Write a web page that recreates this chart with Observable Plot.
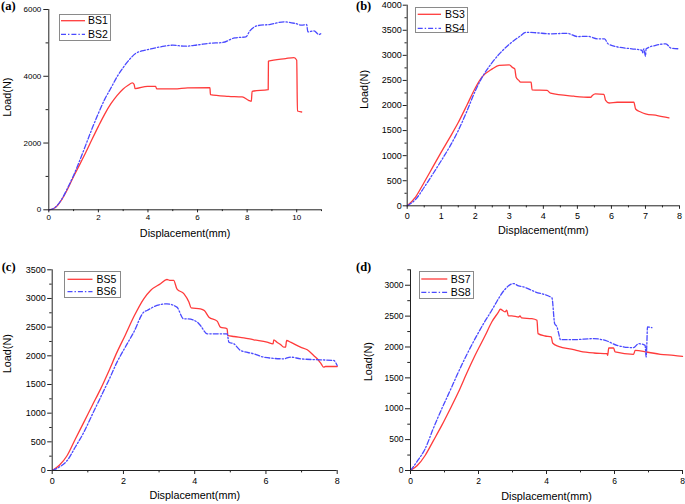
<!DOCTYPE html>
<html><head><meta charset="utf-8">
<script src="https://cdn.jsdelivr.net/npm/d3@7"></script>
<script src="https://cdn.jsdelivr.net/npm/@observablehq/plot@0.6"></script>
<style>
body{margin:0;background:#fff;}
#wrap{position:relative;width:685px;height:504px;overflow:hidden;font-family:"Liberation Sans",Arial,sans-serif;background:#fff;}
.lg{position:absolute;border:1px solid #8a8a8a;background:#fff;box-sizing:border-box;}
.lt{position:absolute;font-size:10.5px;line-height:1;color:#000;}
.pl{position:absolute;font-family:"Liberation Serif","Times New Roman",serif;font-weight:bold;font-size:12.5px;line-height:1;}
</style></head>
<body><div id="wrap"></div>
<script>
// ---------- data ----------
const xLabel = "Displacement(mm)";
const yLabel = "Load(N)";
const panelTags = ["(a)", "(b)", "(c)", "(d)"];

const bs1X = [0,0.2,0.35,0.5,0.75,1.0,1.25,1.5,1.75,2.0,2.25,2.5,2.75,3.0,3.2,3.37,3.44,3.48,3.98,4.31,4.35,5.06,5.6,6.5,6.52,7.25,7.8,8.06,8.17,8.2,8.85,8.86,9.55,9.89,10.0,10.03,10.2];
const bs1Y = [0,40,130,280,610,1000,1360,1730,2120,2500,2860,3170,3420,3620,3730,3800,3760,3630,3700,3700,3620,3620,3650,3660,3450,3400,3380,3280,3250,3550,3600,4450,4530,4560,4480,2960,2930];
const bs2X = [0,0.2,0.35,0.5,0.75,1.0,1.25,1.5,1.75,2.0,2.25,2.5,2.75,3.0,3.25,3.5,3.75,4.0,4.5,5.0,5.5,6.0,6.5,7.0,7.5,7.95,8.1,8.45,8.9,9.5,9.95,10.2,10.4,10.45,10.7,10.9,11.0];
const bs2Y = [0,40,140,290,640,1030,1480,1960,2440,2890,3300,3640,3980,4260,4500,4680,4760,4800,4880,4930,4900,4940,4990,5010,5150,5180,5350,5520,5550,5630,5580,5530,5550,5330,5360,5250,5290];

const bs3X = [0,0.25,0.5,0.75,1.0,1.25,1.5,1.75,2.0,2.2,2.5,2.7,3.0,3.09,3.16,3.2,3.28,3.33,3.64,3.67,4.11,4.21,4.9,5.39,5.44,5.53,5.78,5.83,5.93,6.17,6.66,6.71,6.86,7.0,7.35,7.69];
const bs3Y = [0,180,470,770,1070,1360,1660,2000,2350,2570,2730,2800,2810,2760,2730,2565,2500,2465,2465,2310,2300,2245,2185,2165,2200,2230,2220,2100,2050,2065,2065,1930,1870,1835,1800,1755];
const bs4X = [0,0.25,0.5,0.75,1.0,1.25,1.5,1.75,2.0,2.2,2.5,2.75,3.0,3.3,3.5,3.8,4.2,4.7,5.0,5.3,5.6,5.8,5.9,6.2,6.6,6.9,6.92,6.95,7.0,7.02,7.3,7.6,7.75,8.0];
const bs4Y = [0,130,370,630,900,1180,1500,1880,2290,2560,2860,3060,3220,3375,3460,3450,3430,3440,3375,3380,3330,3330,3230,3165,3130,3100,3050,3130,2985,3130,3200,3230,3145,3130];

const bs5X = [0,0.2,0.42,0.65,0.89,1.12,1.36,1.6,1.82,2.05,2.29,2.57,2.76,3.04,3.22,3.32,3.41,3.5,3.7,3.84,3.9,4.16,4.27,4.4,4.63,4.72,4.91,4.93,5.1,5.38,5.66,6.03,6.2,6.22,6.31,6.41,6.5,6.55,6.58,6.69,6.97,7.16,7.34,7.44,7.55,7.62,7.67,8.0];
const bs5Y = [0,90,262,550,843,1130,1424,1750,2064,2360,2680,2994,3140,3256,3331,3314,3314,3169,3081,2936,2837,2820,2790,2674,2605,2500,2471,2355,2337,2314,2279,2238,2209,2279,2238,2197,2151,2151,2267,2238,2151,2105,2006,1948,1860,1802,1814,1814];
const bs6X = [0,0.2,0.42,0.65,0.89,1.12,1.36,1.6,1.82,2.05,2.29,2.57,2.66,2.94,3.22,3.5,3.69,3.79,4.07,4.16,4.35,4.72,4.91,4.96,5.1,5.29,5.66,5.94,6.5,6.69,6.97,7.52,7.9,8.0];
const bs6Y = [0,60,174,410,669,970,1279,1590,1890,2150,2413,2762,2791,2878,2907,2849,2645,2645,2587,2529,2384,2384,2384,2238,2209,2093,2035,1977,1948,1977,1948,1930,1919,1831];

const bs7X = [0,0.2,0.43,0.67,0.92,1.17,1.41,1.65,1.9,2.2,2.39,2.59,2.64,2.78,2.83,2.88,2.98,3.18,3.22,3.27,3.57,3.72,3.75,3.96,4.14,4.18,4.35,4.8,5.0,5.39,5.78,5.8,5.83,5.97,6.02,6.56,6.61,6.95,7.35,7.74,8.0];
const bs7Y = [0,80,243,480,730,1000,1270,1570,1865,2189,2405,2568,2611,2568,2595,2503,2503,2486,2503,2470,2460,2432,2216,2178,2162,2065,2011,1957,1930,1903,1892,1865,1984,1984,1919,1881,1946,1919,1881,1865,1849];
const bs8X = [0,0.2,0.43,0.67,0.92,1.17,1.41,1.65,1.9,2.15,2.39,2.59,2.78,3.03,3.18,3.32,3.67,4.16,4.24,4.31,4.36,4.41,4.8,5.39,5.78,6.07,6.56,6.71,6.9,6.93,6.95,6.97,7.1];
const bs8Y = [0,150,351,680,1000,1300,1595,1870,2135,2380,2595,2784,2935,3027,2989,2973,2892,2795,2378,2324,2216,2119,2119,2135,2097,2027,1989,2054,2027,1838,2027,2324,2313];

const seriesNames = [["BS1","BS2"],["BS3","BS4"],["BS5","BS6"],["BS7","BS8"]];
const xTicksA = [0,2,4,6,8,10];
const xMinorA = [1,3,5,7,9,11];
const yTicksA = [0,2000,4000,6000];
const yMinorA = [1000,3000,5000];
const xTicksB = [0,1,2,3,4,5,6,7,8];
const xMinorB = [0.5,1.5,2.5,3.5,4.5,5.5,6.5,7.5];
const yTicksB = [0,500,1000,1500,2000,2500,3000,3500,4000];
const yMinorB = [250,750,1250,1750,2250,2750,3250,3750];
const xTicksCD = [0,2,4,6,8];
const xMinorCD = [1,3,5,7];
const yTicksC = [0,500,1000,1500,2000,2500,3000,3500];
const yMinorC = [250,750,1250,1750,2250,2750,3250];
const yTicksD = [0,500,1000,1500,2000,2500,3000];
const yMinorD = [250,750,1250,1750,2250,2750,3250];

// ---------- styling / layout ----------
const RED = "#ff3b3b", BLUE = "#4a4aff", DASH = "5,2,1.4,2";
const W = 685, H = 504;
const panels = [
  {frame:[48.3,9,321,209.3], xd:[0,11], yd:[0,6000], xt:xTicksA, xm:xMinorA, yt:yTicksA, ym:yMinorA,
   s:[[bs1X,bs1Y],[bs2X,bs2Y]], fs:8, ytick:5, ypad:2.5, xtick:3, xpad:1.5, xdy:27, ydx:-41, ydy:7,
   lg:[58.7,14,111,40.7, 61,85,20.7,34.3, 88], tag:[1,6.7]},
  {frame:[406.7,4.7,679,205.3], xd:[0,8], yd:[0,4000], xt:xTicksB, xm:xMinorB, yt:yTicksB, ym:yMinorB,
   s:[[bs3X,bs3Y],[bs4X,bs4Y]], fs:9, ytick:4, ypad:1.5, xtick:3.5, xpad:3, xdy:28, ydx:-43, ydy:3.5,
   lg:[415,6.7,468.3,33, 417.7,441,14.3,28.3, 445], tag:[356,6.7]},
  {frame:[51.7,269.3,336.7,470], xd:[0,8], yd:[0,3500], xt:xTicksCD, xm:xMinorCD, yt:yTicksC, ym:yMinorC,
   s:[[bs5X,bs5Y],[bs6X,bs6Y]], fs:9, ytick:4.5, ypad:2, xtick:4, xpad:3.5, xdy:28, ydx:-45, ydy:3,
   lg:[63.5,270.5,120.5,297.5, 67.5,92.5,279.3,291.7, 96.5], tag:[1.7,267]},
  {frame:[410,269.3,682,470], xd:[0,8], yd:[0,3250], xt:xTicksCD, xm:xMinorCD, yt:yTicksD, ym:yMinorD,
   s:[[bs7X,bs7Y],[bs8X,bs8Y]], fs:8.5, ytick:5, ypad:2, xtick:4, xpad:3, xdy:29, ydx:-42, ydy:11,
   lg:[419,271,474,299, 421.3,447.3,279,292.3, 450.7], tag:[356,267.7]}
];

const wrap = document.getElementById("wrap");
const fmt = d3.format("d");
const AX = "#222";

panels.forEach((p, k) => {
  const [l, t, r, b] = p.frame;
  const rows = [];
  p.s.forEach(([xs, ys], j) => xs.forEach((x, i) => rows.push({x, y: ys[i], name: seriesNames[k][j]})));
  const svg = Plot.plot({
    width: W, height: H,
    marginLeft: l, marginTop: t, marginRight: W - r, marginBottom: H - b,
    style: {position: "absolute", left: "0px", top: "0px", background: "transparent", overflow: "visible",
            fontFamily: "'Liberation Sans', Arial, sans-serif", color: "#000"},
    x: {domain: p.xd},
    y: {domain: p.yd},
    marks: [
      Plot.line(rows.filter(d => d.name === seriesNames[k][0]), {x: "x", y: "y", stroke: RED, strokeWidth: 1.3, curve: "monotone-x"}),
      Plot.line(rows.filter(d => d.name === seriesNames[k][1]), {x: "x", y: "y", stroke: BLUE, strokeWidth: 1.3, strokeDasharray: DASH, curve: "monotone-x"}),
      Plot.ruleX([p.xd[0]], {stroke: AX, strokeWidth: 1}),
      Plot.ruleY([p.yd[0]], {stroke: AX, strokeWidth: 1}),
      Plot.axisY(p.yt, {tickSize: p.ytick, tickPadding: p.ypad, tickFormat: fmt, fontSize: p.fs, label: null, stroke: AX}),
      Plot.axisY(p.ym, {tickSize: p.ytick * 0.55, tickFormat: () => "", label: null, stroke: AX}),
      Plot.axisX(p.xt, {tickSize: p.xtick, tickPadding: p.xpad, tickFormat: fmt, fontSize: p.fs, label: null, stroke: AX}),
      Plot.axisX(p.xm, {tickSize: p.xtick * 0.6, tickFormat: () => "", label: null, stroke: AX}),
      Plot.text([xLabel], {frameAnchor: "bottom", dy: p.xdy, fontSize: 10.8, fill: "#000"}),
      Plot.text([yLabel], {frameAnchor: "left", dx: p.ydx, dy: p.ydy, rotate: -90, fontSize: 10.8, fill: "#000"})
    ]
  });
  wrap.appendChild(svg);

  // legend box
  const [bx0, by0, bx1, by1, lx0, lx1, ly0, ly1, tx] = p.lg;
  const box = document.createElement("div");
  box.className = "lg";
  Object.assign(box.style, {left: bx0 + "px", top: by0 + "px", width: (bx1 - bx0) + "px", height: (by1 - by0) + "px"});
  wrap.appendChild(box);
  const ns = "http://www.w3.org/2000/svg";
  const ls = document.createElementNS(ns, "svg");
  ls.setAttribute("width", W); ls.setAttribute("height", H);
  ls.style.position = "absolute"; ls.style.left = "0px"; ls.style.top = "0px";
  [[ly0, RED, null], [ly1, BLUE, DASH]].forEach(([yy, c, da]) => {
    const ln = document.createElementNS(ns, "line");
    ln.setAttribute("x1", lx0); ln.setAttribute("x2", lx1);
    ln.setAttribute("y1", yy); ln.setAttribute("y2", yy);
    ln.setAttribute("stroke", c); ln.setAttribute("stroke-width", 1.3);
    if (da) ln.setAttribute("stroke-dasharray", da);
    ls.appendChild(ln);
  });
  wrap.appendChild(ls);
  [[ly0, seriesNames[k][0]], [ly1, seriesNames[k][1]]].forEach(([yy, txt]) => {
    const d = document.createElement("div");
    d.className = "lt"; d.textContent = txt;
    d.style.left = tx + "px"; d.style.top = (yy - 5.5) + "px";
    wrap.appendChild(d);
  });
  // panel tag
  const tg = document.createElement("div");
  tg.className = "pl"; tg.textContent = panelTags[k];
  tg.style.left = p.tag[0] + "px"; tg.style.top = (p.tag[1] - 6.5) + "px";
  wrap.appendChild(tg);
});
</script></body></html>
